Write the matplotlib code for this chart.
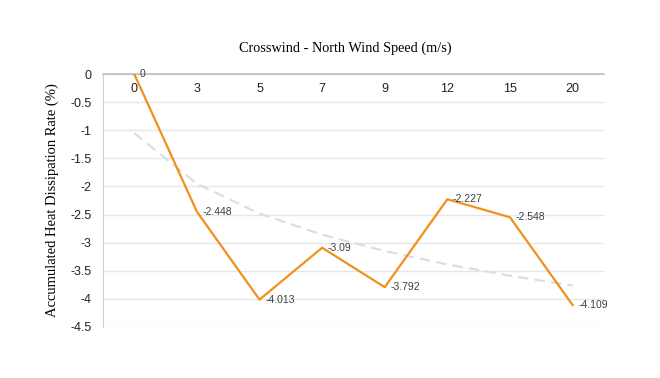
import numpy as np
import matplotlib.pyplot as plt

speeds = ["0", "3", "5", "7", "9", "12", "15", "20"]
rate = [0, -2.448, -4.013, -3.09, -3.792, -2.227, -2.548, -4.109]
labels = ["0", "-2.448", "-4.013", "-3.09", "-3.792", "-2.227", "-2.548", "-4.109"]


def main():
  fig = plt.figure(figsize=(6.6, 3.78), dpi=100)
  ax = fig.add_axes([0.156, 0.135, 0.759, 0.669])

  x = np.arange(len(speeds)) + 0.5
  y = np.array(rate)

  # log trendline (Excel style, on category index 1..n)
  idx = np.arange(1, len(speeds) + 1)
  a, b = np.polyfit(np.log(idx), y, 1)
  ax.plot(x, a * np.log(idx) + b, color="#dcdcdc", lw=1.5, dashes=(5, 3), zorder=2)

  ax.plot(x, y, color="#f2901c", lw=1.6, zorder=3)
  for xi, yi, t in zip(x, y, labels):
    ax.annotate(t, (xi, yi), xytext=(4, 0), textcoords="offset points",
                ha="left", va="center", fontsize=7.5, color="#404040",
                family="Liberation Sans", zorder=4)

  ax.set_xlim(0, len(speeds))
  ax.set_ylim(-4.5, 0)
  ax.set_yticks(np.arange(0, -4.51, -0.5))
  ax.set_yticklabels(["0", "-0.5", "-1", "-1.5", "-2", "-2.5", "-3", "-3.5", "-4", "-4.5"],
                     family="Liberation Sans", fontsize=9, color="#222222")
  ax.set_xticks(x)
  ax.set_xticklabels(speeds, family="Liberation Sans", fontsize=9, color="#222222")
  ax.tick_params(axis="x", top=True, labeltop=True, bottom=False, labelbottom=False,
                 length=0, pad=-15)
  ax.tick_params(axis="y", length=0, pad=8)
  ax.grid(axis="y", color="#e6e6e6", lw=1)
  ax.set_axisbelow(True)

  for s in ["right", "bottom"]:
    ax.spines[s].set_visible(False)
  ax.spines["top"].set_color("#bfbfbf")
  ax.spines["top"].set_linewidth(1.2)
  ax.spines["left"].set_color("#d0d0d0")

  fig.text(0.523, 0.873, "Crosswind - North Wind Speed (m/s)", ha="center", va="center",
           family="Liberation Serif", fontsize=10.3)
  ax.set_ylabel("Accumulated Heat Dissipation Rate (%)", family="Liberation Serif",
                fontsize=10.5, labelpad=8)

  fig.savefig("out.png", dpi=100)


if __name__ == '__main__':
  main()
